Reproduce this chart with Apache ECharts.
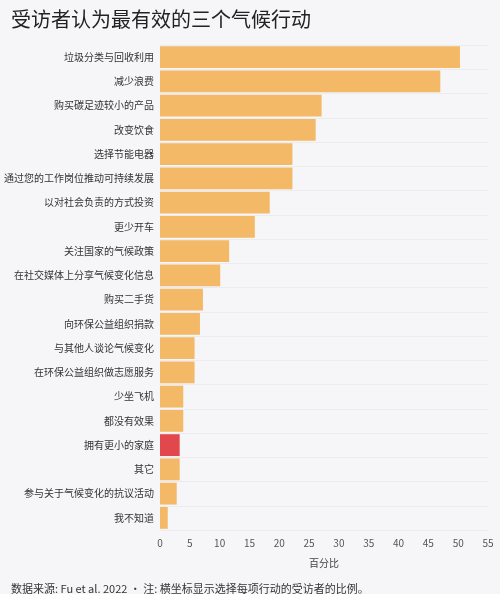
<!DOCTYPE html>
<html><head><meta charset="utf-8">
<script src="https://cdn.jsdelivr.net/npm/echarts@6/dist/echarts.min.js"></script>
<style>html,body{margin:0;background:#f6f6f8}#c{width:500px;height:594px}</style>
</head><body><div id="c"></div>
<script>
const categories = ["垃圾分类与回收利用","减少浪费","购买碳足迹较小的产品","改变饮食","选择节能电器","通过您的工作岗位推动可持续发展","以对社会负责的方式投资","更少开车","关注国家的气候政策","在社交媒体上分享气候变化信息","购买二手货","向环保公益组织捐款","与其他人谈论气候变化","在环保公益组织做志愿服务","少坐飞机","都没有效果","拥有更小的家庭","其它","参与关于气候变化的抗议活动","我不知道"];
const values = [50.3,47.0,27.1,26.1,22.2,22.2,18.4,15.9,11.6,10.1,7.2,6.7,5.8,5.8,3.9,3.9,3.3,3.3,2.8,1.3];
const highlight = "拥有更小的家庭";
const xTicks = [0,55,5];
const chart = echarts.init(document.getElementById('c'));
const font = '"Noto Sans CJK SC","Noto Sans",sans-serif';
chart.setOption({
  backgroundColor:'#f6f6f8',
  textStyle:{fontFamily:font},
  title:[{text:'受访者认为最有效的三个气候行动',left:6,top:4,textStyle:{fontSize:20,fontWeight:'normal',color:'#222',fontFamily:font}},
    {text:'数据来源: Fu et al. 2022 • 注: 横坐标显示选择每项行动的受访者的比例。',left:6,top:578,textStyle:{fontSize:11,fontWeight:'normal',color:'#333',fontFamily:font}}],
  grid:{left:160,right:12,top:45,bottom:64},
  xAxis:{type:'value',min:xTicks[0],max:xTicks[1],interval:xTicks[2],name:'百分比',nameLocation:'middle',nameGap:28,
    nameTextStyle:{fontSize:10,color:'#444'},axisLabel:{fontSize:10,color:'#555'},splitLine:{show:false},axisLine:{show:false},axisTick:{show:false}},
  yAxis:{type:'category',data:categories,inverse:true,axisLabel:{fontSize:10,color:'#333',margin:6},
    axisLine:{show:false},axisTick:{show:false},splitLine:{show:true,lineStyle:{color:'#ececf0'}}},
  series:[{type:'bar',barCategoryGap:'10%',
    data:values.map((v,i)=>({value:v,itemStyle:{color:categories[i]===highlight?'#e2474b':'#f3b966'}}))}]
});
</script></body></html>
